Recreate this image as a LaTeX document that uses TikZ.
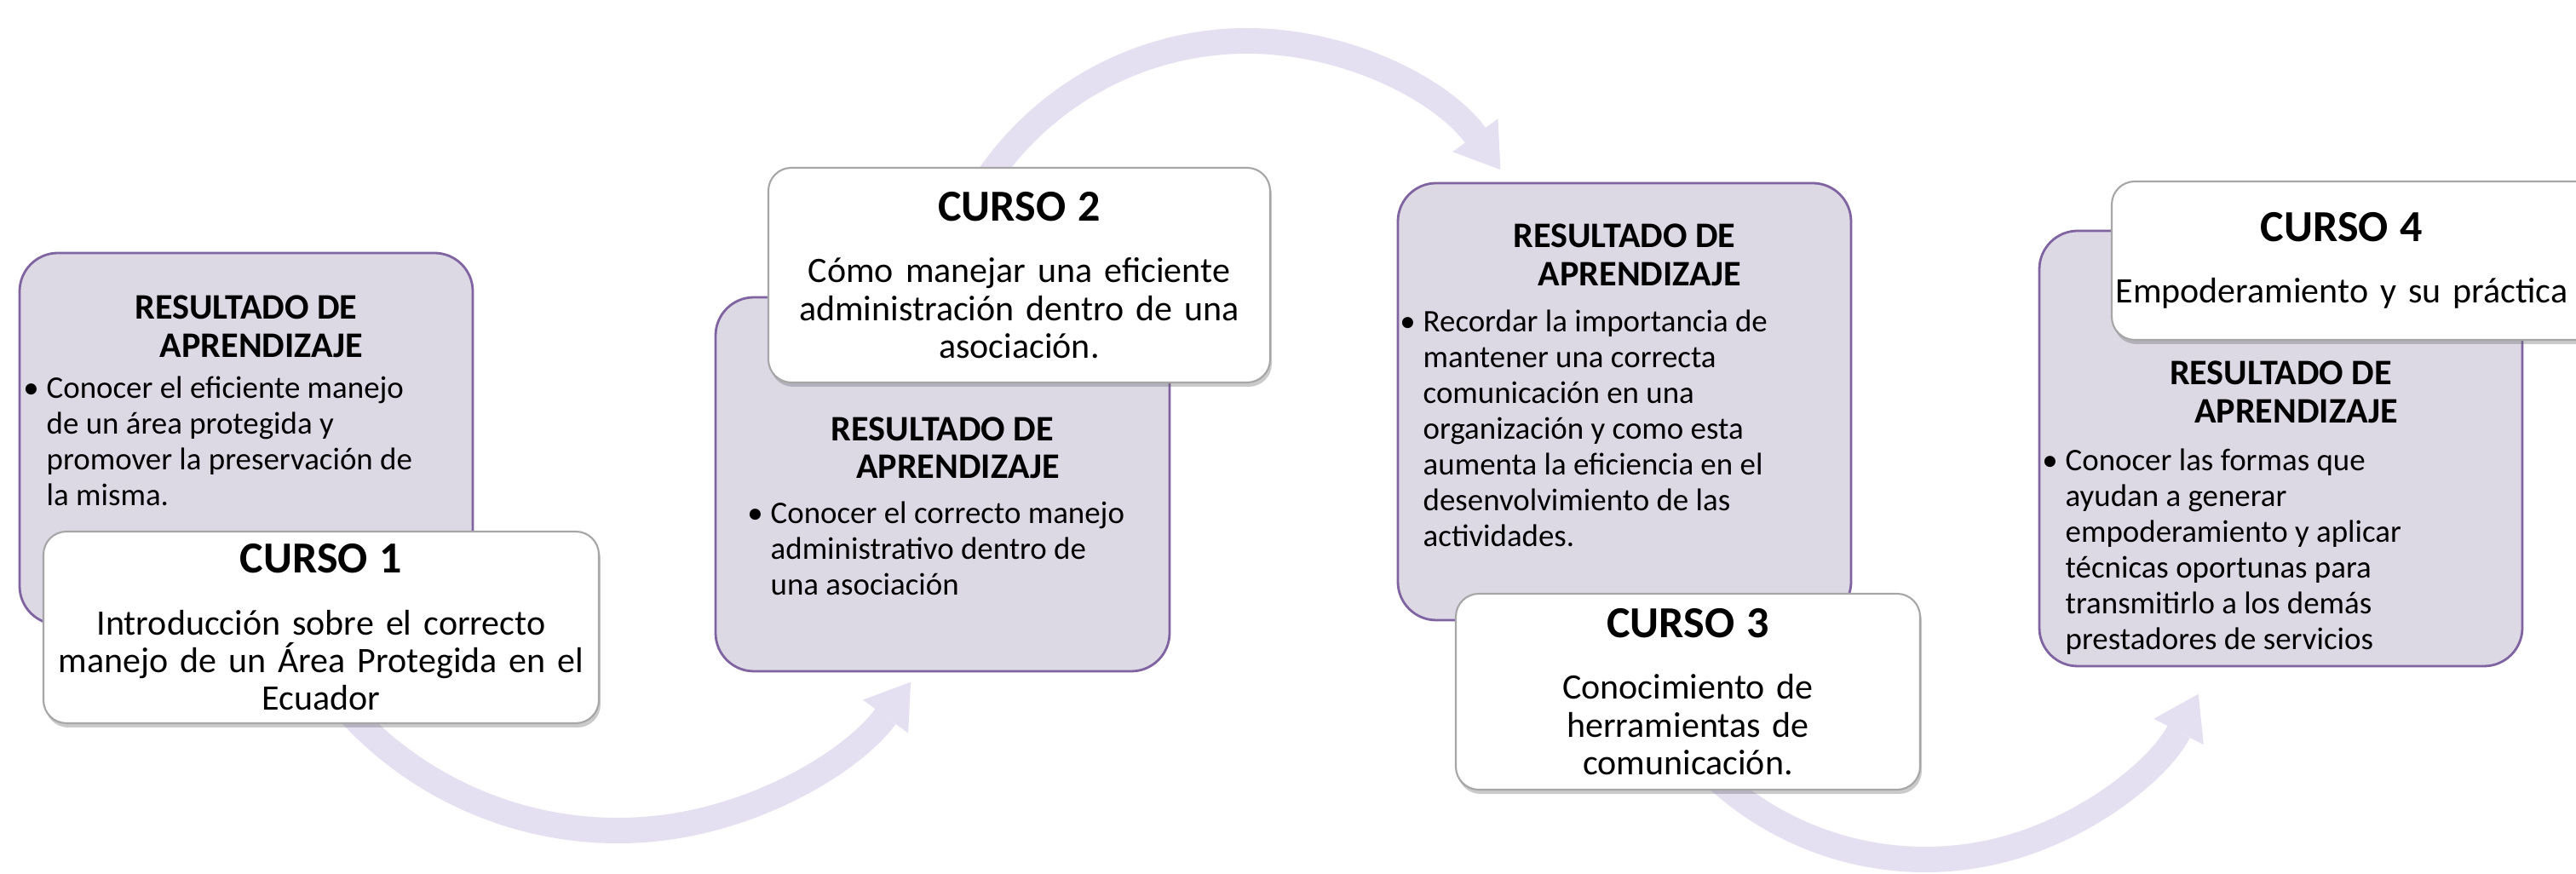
\documentclass[tikz,border=0pt]{standalone}
\usepackage{fontspec}
\setmainfont{Carlito}
\usetikzlibrary{arrows.meta, shadows}

\definecolor{resfill}{RGB}{220,217,229}
\definecolor{resline}{RGB}{128,100,162}
\definecolor{flowc}{RGB}{229,223,242}

\newcommand{\resbullet}{\llap{\textbullet\hspace{0.09cm}}}
\newcommand{\cursotitle}{\fontsize{14.8}{17}\selectfont\bfseries}

\begin{document}
\begin{tikzpicture}[every node/.style={align=center},
	res/.style={draw=resline, line width=0.8pt, fill=resfill, rounded corners=0.45cm},
	curso/.style={draw=gray!70, line width=0.6pt, fill=white, rounded corners=0.27cm, inner sep=0pt,
		drop shadow={shadow xshift=0.02cm, shadow yshift=-0.05cm, opacity=0.35, fill=black!60},
		font=\fontsize{11.95}{12.6}\selectfont},
	reshead/.style={anchor=north, inner sep=0pt, font=\fontsize{12}{12.6}\selectfont\bfseries},
	resbody/.style={anchor=north west, align=left, inner sep=0pt, font=\fontsize{10.5}{11.95}\selectfont},
	flow/.style={draw=flowc, line width=0.30cm, -{Triangle[width=0.66cm, length=0.5cm, line width=0pt]}}]
			\useasboundingbox (0,0) rectangle (30.24,-10.26);
			\clip (0,0) rectangle (30.24,-10.26);
			% Flechas
			\coordinate (a1) at (7.25,-5.48);
			\coordinate (a2) at (14.64,-4.16);
			\coordinate (a3) at (22.60,-6.47);
			\draw[flow] ([shift={(220:4.27)}]a1) arc[start angle=220, end angle=323.7, radius=4.27];
			\draw[flow] ([shift={(148:3.68)}]a2) arc[start angle=148, end angle=36.1, radius=3.68];
			\draw[flow] ([shift={(226:3.62)}]a3) arc[start angle=226, end angle=332.4, radius=3.62];
			%Resultados
			\node[res, minimum width=5.32cm, minimum height=4.36cm] (r1) at (2.89,-5.15) {};
			\node[res, minimum width=5.33cm, minimum height=4.39cm] (r2) at (11.065,-5.685) {};
			\node[res, minimum width=5.32cm, minimum height=5.13cm] (r3) at (19.07,-4.715) {};
			\node[res, minimum width=5.67cm, minimum height=5.11cm] (r4) at (26.775,-5.265) {};
			\node[reshead] (h1) at (2.89,-3.465) {RESULTADO DE\\\hspace*{0.85em}APRENDIZAJE};
			\node[reshead] (h2) at (11.065,-4.89) {RESULTADO DE\\\hspace*{0.85em}APRENDIZAJE};
			\node[reshead] (h3) at (19.07,-2.625) {RESULTADO DE\\\hspace*{0.85em}APRENDIZAJE};
			\node[reshead] (h4) at (26.775,-4.235) {RESULTADO DE\\\hspace*{0.85em}APRENDIZAJE};
			\node[resbody] (b1) at (0.54,-4.41) {\resbullet Conocer el eficiente manejo\\de un área protegida y\\promover la preservación de\\la misma.};
			\node[resbody] (b2) at (9.04,-5.88) {\resbullet Conocer el correcto manejo\\administrativo dentro de\\una asociación};
			\node[resbody] (b3) at (16.70,-3.635) {\resbullet Recordar la importancia de\\mantener una correcta\\comunicación en una\\organización y como esta\\aumenta la eficiencia en el\\desenvolvimiento de las\\actividades.};
			\node[resbody] (b4) at (24.24,-5.265) {\resbullet Conocer las formas que\\ayudan a generar\\empoderamiento y aplicar\\técnicas oportunas para\\transmitirlo a los demás\\prestadores de servicios};
			%Cursos
			\node[curso, minimum width=6.52cm, minimum height=2.25cm, text width=6.3cm] (c1) at (3.77,-7.365)
				{{\cursotitle CURSO 1}\\[8pt]Introducción sobre el correcto\\manejo de un Área Protegida en el\\Ecuador};
			\node[curso, minimum width=5.89cm, minimum height=2.52cm, text width=5.7cm] (c2) at (11.965,-3.23)
				{{\cursotitle CURSO 2}\\[8pt]Cómo manejar una eficiente\\administración dentro de una\\asociación.};
			\node[curso, minimum width=5.45cm, minimum height=2.30cm, text width=5.3cm] (c3) at (19.815,-8.12)
				{{\cursotitle CURSO 3}\\[8pt]Conocimiento de\\herramientas de\\comunicación.};
			\node[curso, minimum width=5.80cm, minimum height=1.86cm, text width=5.6cm] (c4) at (27.69,-3.06)
				{\hspace*{-0.4cm}{\cursotitle CURSO 4}\\[8pt]\hspace*{-0.4cm}Empoderamiento y su práctica};
		\end{tikzpicture}
\end{document}
